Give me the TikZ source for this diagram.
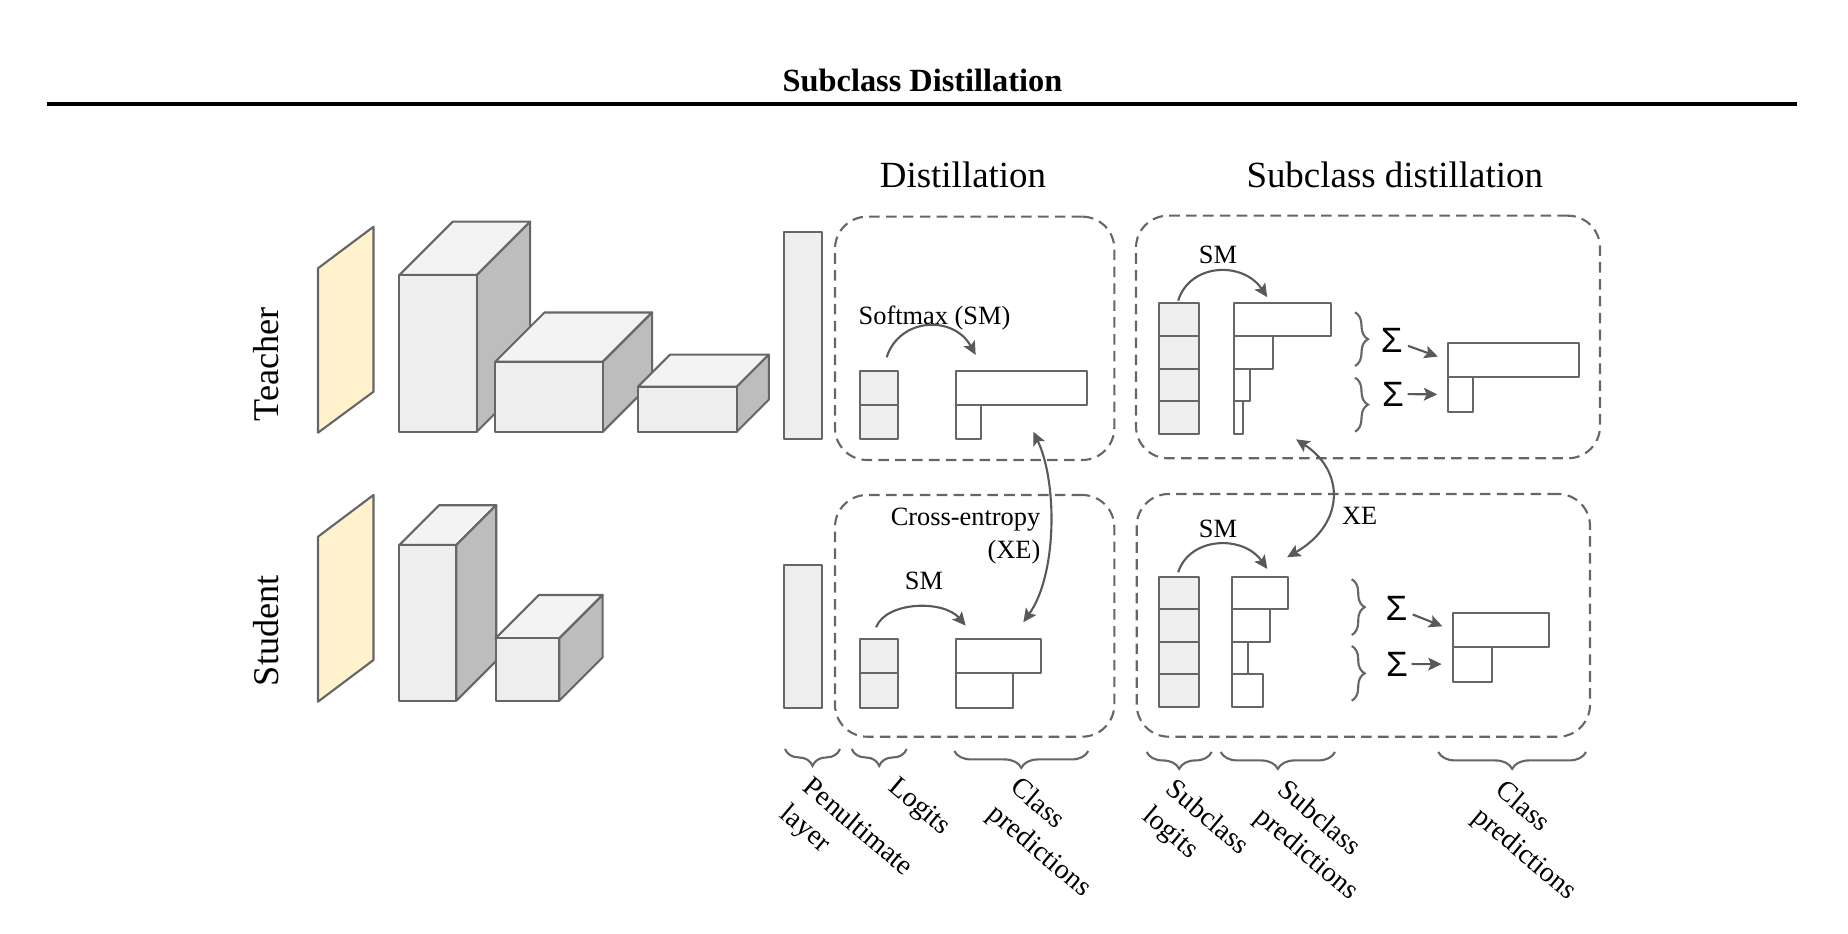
\documentclass[tikz,border=0pt]{standalone}
\usepackage{fontspec}
\setmainfont{Liberation Serif}
\newfontfamily\sigmafont{Liberation Sans}
\usepackage{tikz}
\usetikzlibrary{arrows.meta, calc, fit, decorations.pathreplacing}

\definecolor{linegray}{HTML}{666666}
\definecolor{arrowgray}{HTML}{595959}
\definecolor{cellgray}{HTML}{EEEEEE}
\definecolor{topgray}{HTML}{F3F3F3}
\definecolor{sidegray}{HTML}{BDBDBD}
\definecolor{inputyellow}{HTML}{FFF2CC}

% 3D layer block: front top-left x, y, width, height, depth
\newcommand{\layerblock}[5]{%
  \draw[boxline, fill=topgray] (#1,#2) -- ++(#5,-#5) -- ++(#3,0) -- ++(-#5,#5) -- cycle;
  \draw[boxline, fill=sidegray] (#1+#3,#2) -- ++(#5,-#5) -- ++(0,#4) -- ++(-#5,#5) -- cycle;
  \draw[boxline, fill=cellgray] (#1,#2) rectangle ++(#3,#4);
}

\begin{document}
\begin{tikzpicture}[x=0.01cm, y=-0.01cm,
    boxline/.style={draw=linegray, line width=0.6pt, line join=round},
    cell/.style={boxline, fill=cellgray, inner sep=0pt},
    outbar/.style={boxline, fill=white, inner sep=0pt},
    group/.style={draw=linegray, line width=0.6pt, dash pattern=on 3pt off 1.8pt, rounded corners=0.32cm, inner sep=0pt},
    smarrow/.style={draw=arrowgray, line width=0.6pt, -{Stealth[length=3.8pt, width=3.6pt, inset=0.8pt]}},
    xearrow/.style={draw=arrowgray, line width=0.6pt, {Stealth[length=3.8pt, width=3.6pt, inset=0.8pt]}-{Stealth[length=3.8pt, width=3.6pt, inset=0.8pt]}},
    curly/.style={draw=linegray, line width=0.6pt, decorate, decoration={brace, amplitude=#1}},
    curly/.default=4.8pt,
    heading/.style={font=\fontsize{10.5}{12.6}\selectfont, anchor=base, inner sep=0pt},
    rowlabel/.style={font=\fontsize{10.3}{12.4}\selectfont, rotate=90, anchor=base, inner sep=0pt},
    opname/.style={font=\fontsize{7.5}{9.4}\selectfont, inner sep=0pt},
    axislabel/.style={font=\fontsize{8}{10}\selectfont, rotate=-40, anchor=north west, align=left, inner sep=0pt},
    sigma/.style={font=\sigmafont\fontsize{10}{12}\selectfont, inner sep=0pt}]
    \useasboundingbox (0,0) rectangle (1848,934);

    % Header
    \node[font=\bfseries\fontsize{9.2}{11}\selectfont, anchor=base, inner sep=0pt] (title) at (922.5,91.7) {Subclass Distillation};
    \draw[line width=0.95pt] (47,104) -- (1797,104);

    % Section headings and row labels
    \node[heading] (kdhead) at (963,188) {Distillation};
    \node[heading] (sdhead) at (1394.7,187.5) {Subclass distillation};
    \node[rowlabel] (teacher) at (278,364.2) {Teacher};
    \node[rowlabel] (student) at (278,630.8) {Student};

    % Teacher network
    \draw[boxline, fill=inputyellow] (318,432.7) -- (318,268.3) -- (373.5,226.7) -- (373.5,391.7) -- cycle;
    \layerblock{399.4}{275}{77.4}{156.7}{53.3}
    \layerblock{495.3}{361.7}{107.6}{70}{49.2}
    \layerblock{638}{386.7}{98.8}{45}{32}
    \node[cell, fit={(784,232.3) (822.3,438.7)}] (tpen) {};

    % Student network
    \draw[boxline, fill=inputyellow] (318,701.7) -- (318,536.7) -- (373.5,495) -- (373.5,660) -- cycle;
    \layerblock{399.4}{545}{57}{155.7}{39.8}
    \layerblock{495.6}{638.3}{63.7}{62.4}{43.3}
    \node[cell, fit={(784,565) (822.3,708.3)}] (spen) {};

    % Distillation: logits and class predictions
    \node[group, fit={(835,216.7) (1114.3,460)}] (kdtbox) {};
    \node[group, fit={(835,495) (1114.3,736.7)}] (kdsbox) {};
    \node[cell, fit={(860,370.7) (898.3,405.3)}] (kdtlog1) {};
    \node[cell, fit={(860,405.3) (898.3,438.7)}] (kdtlog2) {};
    \node[outbar, fit={(956,370.7) (1086.7,405.3)}] (kdtcls1) {};
    \node[outbar, fit={(956,405.3) (980.7,438.7)}] (kdtcls2) {};
    \node[cell, fit={(860,639.3) (898.3,672.7)}] (kdslog1) {};
    \node[cell, fit={(860,672.7) (898.3,708.3)}] (kdslog2) {};
    \node[outbar, fit={(956,639.3) (1040.7,672.7)}] (kdscls1) {};
    \node[outbar, fit={(956,672.7) (1012.7,708.3)}] (kdscls2) {};
    \node[opname, anchor=base] (kdtsm) at (934.5,325) {Softmax (SM)};
    \node[opname, anchor=base] (kdssm) at (924,590) {SM};
    \node[opname, anchor=north east, align=right] (kdxe) at (1041,507.5) {Cross-entropy\\(XE)};
    \draw[smarrow] ($(kdtlog1.north)+(7.5,-12.4)$) .. controls +(13,-40) and +(-22,-40) .. ($(kdtcls1.north west)+(20.7,-14.7)$);
    \draw[smarrow] ($(kdslog1.north)+(-3,-11)$) .. controls +(10,-26) and +(-22,-26) .. ($(kdscls1.north west)+(10.7,-12.6)$);
    \draw[xearrow] ($(kdtcls1.south)+(12,25.4)$) .. controls +(24,50) and +(34,-48) .. ($(kdscls1.north)+(25,-16)$);

    % Subclass distillation: subclass logits and predictions
    \node[group, fit={(1136,215.7) (1600,458.3)}] (sdtbox) {};
    \node[group, fit={(1136.7,494) (1590,736.7)}] (sdsbox) {};
    \foreach \i/\w in {0/1330.7, 1/1272.7, 2/1250, 3/1243.3} {
        \node[cell, fit={(1159.3,303.3+32.7*\i) (1199,336+32.7*\i)}] (sdtlog\i) {};
        \node[outbar, fit={(1234,303.3+32.7*\i) (\w,336+32.7*\i)}] (sdtsub\i) {};
    }
    \foreach \i/\w in {0/1288.3, 1/1270, 2/1247.7, 3/1262.7} {
        \node[cell, fit={(1159.3,576.7+32.5*\i) (1199,609.2+32.5*\i)}] (sdslog\i) {};
        \node[outbar, fit={(1231.7,576.7+32.5*\i) (\w,609.2+32.5*\i)}] (sdssub\i) {};
    }
    \node[outbar, fit={(1448.3,342.7) (1579.3,377.3)}] (sdtcls1) {};
    \node[outbar, fit={(1448.3,377.3) (1472.7,411.7)}] (sdtcls2) {};
    \node[outbar, fit={(1452.7,613.3) (1549.3,646.7)}] (sdscls1) {};
    \node[outbar, fit={(1452.7,646.7) (1491.7,681.7)}] (sdscls2) {};
    \node[opname, anchor=base] (sdtsm) at (1218,263.3) {SM};
    \node[opname, anchor=base] (sdssm) at (1218,538) {SM};
    \node[opname, anchor=base] (sdxe) at (1359.7,525) {XE};
    \draw[smarrow] ($(sdtlog0.north)+(-1,-1.6)$) .. controls +(12,-38) and +(-24,-36) .. ($(sdtsub0.north west)+(34.3,-5)$);
    \draw[smarrow] ($(sdslog0.north)+(-1,-3.4)$) .. controls +(12,-36) and +(-24,-34) .. ($(sdssub0.north west)+(36.6,-6.7)$);
    \draw[xearrow] ($(sdtsub3.south east)+(51.7,4.2)$) .. controls +(49,31.7) and +(58,-33.3) .. ($(sdssub0.north east)+(-2.3,-18.4)$);

    % Summing subclasses into classes
    \draw[curly=3.7pt] (1355,312.3) -- (1355,366);
    \draw[curly=3.7pt] (1355,377.7) -- (1355,431.7);
    \draw[curly=3.7pt] (1351.7,579.3) -- (1351.7,635);
    \draw[curly=3.7pt] (1351.7,646) -- (1351.7,700.7);
    \node[sigma] (sdtsig1) at (1391.7,340) {Σ};
    \node[sigma] (sdtsig2) at (1393,394) {Σ};
    \node[sigma] (sdssig1) at (1396.5,608) {Σ};
    \node[sigma] (sdssig2) at (1397,664) {Σ};
    \draw[smarrow, shorten <=0.05cm, shorten >=0.1cm] (sdtsig1) -- (sdtcls1.west);
    \draw[smarrow, shorten <=0.03cm, shorten >=0.1cm] (sdtsig2) -- (sdtcls2.west);
    \draw[smarrow, shorten <=0.05cm, shorten >=0.1cm] (sdssig1) -- (sdscls1.west);
    \draw[smarrow, shorten <=0.03cm, shorten >=0.1cm] (sdssig2) -- (sdscls2.west);

    % Axis braces and labels
    \draw[curly] (840,749) -- (785,749);
    \draw[curly] (906.7,749) -- (851.7,749);
    \draw[curly] (1088.3,751) -- (954.3,751);
    \draw[curly] (1211.7,752) -- (1146.7,752);
    \draw[curly] (1335,752) -- (1220.7,752);
    \draw[curly] (1586,752) -- (1438.3,752);
    \node[axislabel] (penlbl) at (814,774) {Penultimate\\layer};
    \node[axislabel] (loglbl) at (899,774) {Logits};
    \node[axislabel] (kdclslbl) at (1022,774) {Class\\predictions};
    \node[axislabel] (sloglbl) at (1177,776) {Subclass\\logits};
    \node[axislabel] (ssublbl) at (1289,777) {Subclass\\predictions};
    \node[axislabel] (sdclslbl) at (1507,777) {Class\\predictions};
\end{tikzpicture}
\end{document}
